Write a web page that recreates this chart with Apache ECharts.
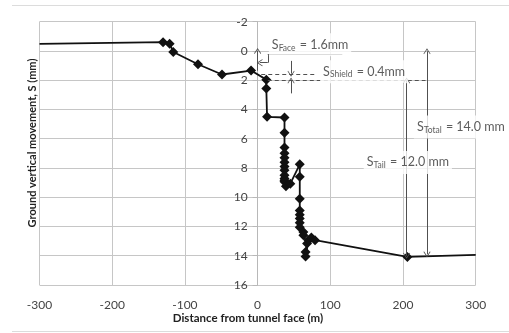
<!DOCTYPE html>
<html>
<head>
<meta charset="utf-8">
<script src="https://cdn.jsdelivr.net/npm/echarts@6/dist/echarts.min.js"></script>
<style>
  html, body { margin: 0; padding: 0; background: #fff; }
  #chart { width: 509px; height: 333px; }
</style>
</head>
<body>
<div id="chart"></div>
<script>
// distance from tunnel face (m)
const distance = [-300, -130, -121, -116, -82, -49, -9, 12, 12, 13, 37, 37, 37, 37, 37, 37, 37, 37, 37, 37, 37, 37,
  39, 45, 58, 58, 58, 58, 58, 58, 58, 58, 63, 63, 68, 66, 66, 70, 74, 79, 206, 300];
// ground vertical movement S (mm), positive = settlement
const settlement = [-0.48, -0.6, -0.5, 0.07, 0.91, 1.61, 1.34, 1.96, 2.57, 4.5, 4.55, 5.6, 6.6, 7.0, 7.3, 7.6, 7.9, 8.15, 8.5, 8.72, 8.84, 8.95,
  9.25, 9.07, 7.75, 8.6, 10.1, 10.9, 11.2, 11.45, 11.75, 12.05, 12.37, 12.6, 13.17, 13.75, 14.05, 12.94, 12.76, 12.94, 14.08, 13.94];

// annotation levels (mm)
const faceLevel = 1.6;
const shieldLevel = 2.0;
const tailX = 205;
const totalX = 233;

const font = "Lato";
const annColor = "#505050";

// endpoints of the trace have no marker
const seriesData = distance.map((d, i) => {
  const item = { value: [d, settlement[i]] };
  if (i === 0 || i === distance.length - 1) item.symbolSize = 0;
  return item;
});

const arrow = "path://M0,0L7,9L6,10L0,2.5L-6,10L-7,9Z";

function seg(a, b, endSym, startSym, dashed) {
  return [
    { coord: a, symbol: startSym ? arrow : "none", symbolSize: [7, 6] },
    { coord: b, symbol: endSym ? arrow : "none", symbolSize: [7, 6],
      lineStyle: { type: dashed ? [4, 3] : "solid" } }
  ];
}

const annLines = [
  seg([0, 1.35], [0, 0], true),
  seg([116.5, 0.23], [14, 0.23]),
  seg([14, 0.23], [14, 0.8]),
  seg([14, 0.8], [3, 0.8], true),
  seg([46, 0.68], [46, 1.55], true),
  seg([46, 2.9], [46, 2.02], true),
  seg([5, 1.56], [81, 1.56], false, false, true),
  seg([14, 1.97], [231, 1.97], false, false, true),
  seg([tailX, 2.02], [tailX, 14.0], true, true),
  seg([totalX, 0.02], [totalX, 13.9], true, true)
];

const rich = {
  m: { fontSize: 12.5, color: "#333", fontFamily: font, lineHeight: 15 },
  s: { fontSize: 8.5, color: "#333", fontFamily: font, lineHeight: 15, verticalAlign: "bottom", padding: [0, 1, 0, 0] }
};

function textItem(pos, text) {
  return {
    value: pos,
    label: {
      show: true, position: "inside", align: "left", verticalAlign: "middle",
      formatter: text, rich: rich,
      backgroundColor: "#fff", padding: [4, 3]
    }
  };
}

const labelData = [
  textItem([15.5, -0.42], "{m|S}{s|Face}{m| = 1.6mm}"),
  textItem([86, 1.42], "{m|S}{s|Shield}{m| = 0.4mm}"),
  textItem([215, 5.2], "{m|S}{s|Total}{m| = 14.0 mm}"),
  textItem([146, 7.62], "{m|S}{s|Tail}{m| = 12.0 mm}")
];

const chart = echarts.init(document.getElementById("chart"));

const option = {
  backgroundColor: "#fff",
  animation: false,
  grid: { left: 39.5, right: 33.3, top: 21.7, bottom: 48 },
  xAxis: {
    type: "value",
    min: -300, max: 300, interval: 100,
    axisLine: { onZero: false, show: false },
    axisTick: { show: false },
    axisLabel: { color: "#444", fontFamily: font, fontSize: 12, margin: 14 },
    splitLine: { lineStyle: { color: "#c6c6c6", width: 1 } }
  },
  yAxis: {
    type: "value",
    inverse: true,
    min: -2, max: 16, interval: 2,
    position: "left",
    // axis sits on x = 0, half the plot width in from the left edge
    offset: -218.1,
    axisLine: { show: true, onZero: false, lineStyle: { color: "#b8b8b8" } },
    axisTick: { show: true, length: 5, lineStyle: { color: "#b8b8b8" } },
    axisLabel: { color: "#444", fontFamily: font, fontSize: 12, margin: 10 },
    splitLine: { lineStyle: { color: "#c6c6c6", width: 1 } }
  },
  graphic: [
    { type: "line", shape: { x1: 12, y1: 5.5, x2: 509, y2: 5.5 }, style: { stroke: "#dcdcdc", lineWidth: 1 } },
    { type: "line", shape: { x1: 12, y1: 331.5, x2: 509, y2: 331.5 }, style: { stroke: "#dcdcdc", lineWidth: 1 } },
    { type: "text", x: 248, y: 318, style: { text: "Distance from tunnel face (m)", fill: "#222",
        font: "bold 11.5px Lato", textAlign: "center", textVerticalAlign: "middle" } },
    { type: "text", x: 32, y: 143, rotation: Math.PI / 2, style: { text: "Ground vertical movement, S (mm)", fill: "#222",
        font: "bold 11px Lato", textAlign: "center", textVerticalAlign: "middle" } }
  ],
  series: [
    {
      type: "line",
      data: seriesData,
      symbol: "diamond",
      symbolSize: 10,
      showAllSymbol: true,
      lineStyle: { color: "#111", width: 1.8 },
      itemStyle: { color: "#111" },
      z: 3
    },
    {
      type: "line",
      data: [],
      silent: true,
      z: 4,
      markLine: {
        silent: true,
        animation: false,
        label: { show: false },
        lineStyle: { color: annColor, width: 1 },
        emphasis: { disabled: true },
        data: annLines
      }
    },
    {
      type: "scatter",
      data: labelData,
      symbolSize: 0,
      silent: true,
      z: 10
    }
  ]
};

chart.setOption(option);
</script>
</body>
</html>
